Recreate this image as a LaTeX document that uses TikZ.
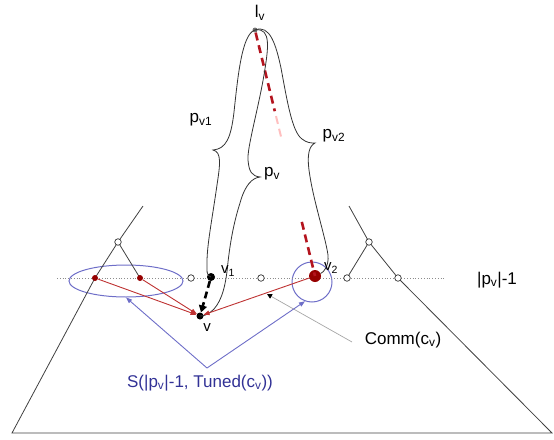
\documentclass[tikz,border=0pt]{standalone}
\usepackage{fontspec}
\setmainfont{Liberation Sans}
\usetikzlibrary{arrows.meta,calc,shapes.geometric}
\definecolor{dred}{RGB}{150,0,0}
\definecolor{ared}{RGB}{190,50,50}
\definecolor{dash}{RGB}{180,20,30}
\definecolor{lblue}{RGB}{110,110,200}
\definecolor{tblue}{RGB}{50,50,150}
\begin{document}
\begin{tikzpicture}[x=1pt,y=-1pt,
  edge/.style={draw=black!75,line width=0.8pt},
  opencirc/.style={circle,draw=black!80,fill=white,inner sep=0pt,minimum size=6.5pt,line width=0.7pt},
  reddot/.style={circle,fill=dred,inner sep=0pt,minimum size=6pt},
  blackdot/.style={circle,fill=black,inner sep=0pt,minimum size=8pt},
  redarr/.style={draw=ared,line width=0.9pt,-{Triangle[length=6pt,width=4.5pt]}},
  bluearr/.style={draw=lblue,line width=0.9pt,-{Triangle[length=6pt,width=4.5pt]}},
  bluering/.style={draw=lblue,line width=1pt},
  brace/.style={draw=black!80,line width=0.8pt},
  reddash/.style={draw=dash,line width=2.6pt,dash pattern=on 8pt off 5pt},
  biglbl/.style={font=\fontsize{17}{20}\selectfont,inner sep=0pt},
  lbl/.style={font=\fontsize{17}{20}\selectfont,inner sep=0pt},
  smalllbl/.style={font=\fontsize{15}{18}\selectfont,inner sep=0pt},
]
\useasboundingbox (0,0) rectangle (554,439);
% coordinates
\coordinate (ltop) at (143,206);
\coordinate (rtop) at (349,206);
\coordinate (lbot) at (12,433);
\coordinate (rbot) at (552,433);
\coordinate (dl) at (57,278);
\coordinate (dr) at (446,278);
\coordinate (lvp) at (255,30);
\coordinate (v1p) at (211,277);
\coordinate (v2p) at (315,276);
\coordinate (vp) at (200,316);
% rings
\node[bluering,ellipse,minimum width=114pt,minimum height=32pt,inner sep=0pt] (ell) at (126,281) {};
\node[bluering,circle,minimum size=40pt,inner sep=0pt] (ring) at (312,282) {};
% dotted level line
\draw[black!45,dotted,line width=0.8pt] (dl) -- (dr);
% tree edges
\coordinate (lc) at (118,242);
\coordinate (rc) at (369,242);
\coordinate (la) at (95,278);
\coordinate (lb) at (140,278);
\coordinate (ra) at (347,278);
\coordinate (rb) at (398,278);
\draw[edge] (ltop) -- (lc) -- (la) -- (lbot) -- (rbot) -- (rb) -- (rc) -- (rtop);
\draw[edge] (lc) -- (lb);
\draw[edge] (rc) -- (ra);
% nodes on the line
\node[opencirc] (c1) at (lc) {};
\node[opencirc] (c2) at (rc) {};
\node[opencirc] (c3) at (ra) {};
\node[opencirc] (c4) at (rb) {};
\node[opencirc] (c5) at (191,278) {};
\node[opencirc] (c6) at (261,278) {};
\node[reddot] (d1) at (la) {};
\node[reddot] (d2) at (lb) {};
\node[circle,fill=dred,inner sep=0pt,minimum width=12pt,minimum height=10pt] (v2) at (v2p) {};
\node[blackdot] (v1) at (v1p) {};
\node[circle,fill=black,inner sep=0pt,minimum size=7pt] (v) at (vp) {};
\node[circle,fill=black!55,inner sep=0pt,minimum size=5pt] (lv) at (lvp) {};
% red dashed line lv -> v2
\draw[reddash] (lv) -- ($(lv)!0.33!(v2)$);
\draw[draw=red!25,line width=2pt,dash pattern=on 8pt off 5pt] ($(lv)!0.35!(v2)$) -- ($(lv)!0.45!(v2)$);
\draw[reddash] ($(lv)!0.78!(v2)$) -- (v2.center);
% braces
\draw[brace] (lv.center) .. controls (242,34) and (238,75) .. (234,112)
  .. controls (231,138) and (226,149) .. (213,150)
  .. controls (222,152) and (220,165) .. (217,185)
  .. controls (212,220) and (207,245) .. (207,262)
  .. controls (207,270) and (206,276) .. (v1.center);
\draw[brace] (lv.center) .. controls (272,27) and (268,50) .. (264,75)
  .. controls (258,110) and (247,148) .. (248,160)
  .. controls (249,172) and (252,176) .. (260,177)
  .. controls (252,178) and (245,185) .. (240,203)
  .. controls (233,225) and (230,245) .. (228,262)
  .. controls (226,285) and (222,300) .. (214,309)
  .. controls (209,314) and (205,316) .. (v.center);
\draw[brace] (lv.center) .. controls (270,24) and (276,45) .. (281,68)
  .. controls (287,100) and (292,132) .. (302,139)
  .. controls (307,143) and (311,143) .. (315,143)
  .. controls (309,146) and (307,155) .. (309,170)
  .. controls (313,200) and (325,235) .. (328,255)
  .. controls (329,266) and (324,272) .. (v2);
% thick dashed arrow v1 -> v
\draw[black,line width=2.6pt,dash pattern=on 7pt off 4pt,-{Triangle[length=7pt,width=8pt]}] (v1) -- (v);
% red arrows
\draw[redarr] (d1) -- (v);
\draw[redarr] (d2) -- (v);
\draw[redarr] (v2) -- (v);
% Comm pointer
\coordinate (cs) at (352,342);
\coordinate (ce) at (267,294);
\draw[black!35,line width=0.7pt,-{Triangle[length=5pt,width=5pt,fill=black,color=black]}] (cs) -- (ce);
% blue arrows
\coordinate (sv) at (207,368);
\draw[bluearr] (sv) -- (ell.south);
\draw[bluearr] (sv) -- (ring.250);
% labels
\node[biglbl] (tlv) at (260,13) {l\textsubscript{v}};
\node[biglbl] (tpv1) at (201,120) {p\textsubscript{v1}};
\node[biglbl] (tpv) at (272,174) {p\textsubscript{v}};
\node[biglbl] (tpv2) at (334,136) {p\textsubscript{v2}};
\node[smalllbl] (tv1) at (228,271) {v\textsubscript{1}};
\node[smalllbl] (tv2) at (331,268) {v\textsubscript{2}};
\node[smalllbl] (tv) at (207,328) {v};
\node[biglbl] (tlev) at (497,280) {|p\textsubscript{v}|-1};
\node[lbl] (tcomm) at (403,340) {Comm(c\textsubscript{v})};
\node[lbl,text=tblue] (ts) at (200,383) {S(|p\textsubscript{v}|-1, Tuned(c\textsubscript{v}))};
\end{tikzpicture}
\end{document}
